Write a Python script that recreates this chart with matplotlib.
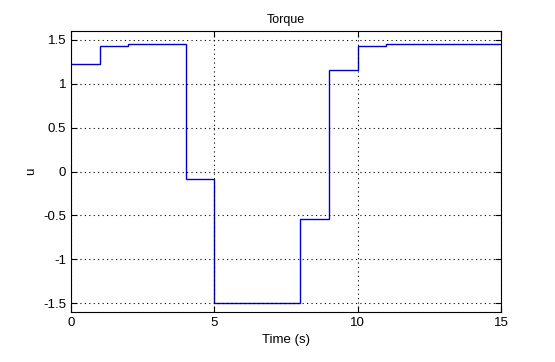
import matplotlib
matplotlib.use('Agg')
import matplotlib.pyplot as plt
import numpy as np

# step edges (s) and torque held on each step
t_edges = [0, 1, 2, 4, 5, 8, 9, 10, 11, 15]
u_steps = [1.23, 1.43, 1.455, -0.085, -1.5, -0.54, 1.16, 1.43, 1.45]

x_ticks = [0, 5, 10, 15]
y_ticks = [-1.5, -1, -0.5, 0, 0.5, 1, 1.5]
y_labels = ['-1.5', '-1', '-0.5', '0', '0.5', '1', '1.5']

plt.rcParams['font.family'] = ['Liberation Sans', 'DejaVu Sans']

fig = plt.figure(figsize=(5.55, 3.62), dpi=100)
ax = fig.add_axes([0.128, 0.138, 0.775, 0.776])

ax.stairs(u_steps, t_edges, color='#0000cc', linewidth=1.0, baseline=None)

ax.set_xlim(0, 15)
ax.set_ylim(-1.6, 1.6)
ax.set_xticks(x_ticks)
ax.set_xticklabels([str(v) for v in x_ticks])
ax.set_yticks(y_ticks)
ax.set_yticklabels(y_labels)
ax.tick_params(direction='in', top=True, right=True, labelsize=9.5, length=4, width=0.8)
ax.grid(True, linestyle=(0, (1, 3)), color='black', linewidth=0.8)
for s in ax.spines.values():
    s.set_linewidth(0.8)

ax.set_title('Torque', fontsize=9)
ax.set_xlabel('Time (s)', fontsize=9.5)
ax.set_ylabel('u', fontsize=9.5)

fig.savefig('out.png', dpi=100)
